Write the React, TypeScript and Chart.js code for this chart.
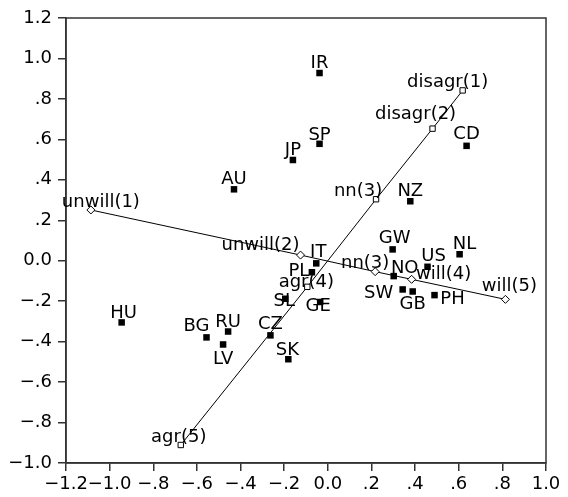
import React, { useEffect, useRef } from "react";
import { Chart, registerables } from "chart.js";

Chart.register(...registerables);

// ---- data ----
const countryNames = ["IR", "SP", "JP", "CD", "NZ", "AU", "HU", "BG", "RU", "LV", "CZ", "SK", "SL", "GE", "IT", "PL", "GW", "NL", "US", "NO", "SW", "GB", "PH"];
const countryX = [-0.038, -0.038, -0.16, 0.636, 0.378, -0.43, -0.945, -0.556, -0.457, -0.48, -0.263, -0.181, -0.195, -0.035, -0.053, -0.073, 0.297, 0.604, 0.457, 0.302, 0.343, 0.389, 0.489];
const countryY = [0.928, 0.578, 0.498, 0.568, 0.294, 0.353, -0.305, -0.379, -0.35, -0.414, -0.369, -0.487, -0.188, -0.204, -0.013, -0.057, 0.056, 0.032, -0.03, -0.076, -0.142, -0.152, -0.17];

const agreeNames = ["disagr(1)", "disagr(2)", "nn(3)", "agr(4)", "agr(5)"];
const agreeX = [0.618, 0.48, 0.221, -0.094, -0.674];
const agreeY = [0.842, 0.653, 0.304, -0.129, -0.911];

const willNames = ["unwill(1)", "unwill(2)", "nn(3)", "will(4)", "will(5)"];
const willX = [-1.086, -0.125, 0.217, 0.384, 0.814];
const willY = [0.251, 0.028, -0.054, -0.092, -0.191];

const xTickValues = [-1.2, -1.0, -0.8, -0.6, -0.4, -0.2, 0, 0.2, 0.4, 0.6, 0.8, 1.0];
const xTickLabels = ["\u22121.2", "\u22121.0", "\u2212.8", "\u2212.6", "\u2212.4", "\u2212.2", "0.0", ".2", ".4", ".6", ".8", "1.0"];
const yTickValues = [-1.0, -0.8, -0.6, -0.4, -0.2, 0, 0.2, 0.4, 0.6, 0.8, 1.0, 1.2];
const yTickLabels = ["\u22121.0", "\u2212.8", "\u2212.6", "\u2212.4", "\u2212.2", "0.0", ".2", ".4", ".6", ".8", "1.0", "1.2"];

// ---- label placement (style only: pixel offsets of label centre from marker) ----
const countryLabelOffsets: Record<string, [number, number]> = {
  IR: [0, -12], SP: [0, -10], JP: [0, -12], CD: [0, -13], NZ: [0, -12], AU: [0, -12],
  HU: [2, -11], BG: [-10, -13], RU: [0, -11], LV: [0, 13], CZ: [0, -13], SK: [-1, -11],
  SL: [-1, 1], GE: [-2, 2], IT: [2, -13], PL: [-13, -3], GW: [2, -13], NL: [5, -12],
  US: [6, -12], NO: [11, -10], SW: [-24, 2], GB: [0, 11], PH: [18, 2],
};
const agreeLabelOffsets: [number, number][] = [[-15, -10], [-17, -16], [-18, -10], [-1, -6], [-2, -10]];
const willLabelOffsets: [number, number][] = [[10, -10], [-40, -12], [-10, -10], [32, -7], [4, -15]];

const FONT_FAMILY = "'DejaVu Sans', sans-serif";
const FONT_SIZE = 18;

const toPts = (xs: number[], ys: number[]) => xs.map((x, i) => ({ x, y: ys[i] }));

const labelPlugin = {
  id: "pointLabels",
  afterDatasetsDraw(chart: any) {
    const ctx = chart.ctx;
    ctx.save();
    ctx.font = `${FONT_SIZE}px ${FONT_FAMILY}`;
    ctx.fillStyle = "#000";
    ctx.textAlign = "center";
    ctx.textBaseline = "alphabetic";
    const capHalf = FONT_SIZE * 0.729 / 2;
    const drawSet = (dsIndex: number, names: string[], offs: (i: number) => [number, number]) => {
      const meta = chart.getDatasetMeta(dsIndex);
      meta.data.forEach((el: any, i: number) => {
        const [dx, dy] = offs(i);
        ctx.fillText(names[i], el.x + dx, el.y + dy + capHalf);
      });
    };
    drawSet(0, agreeNames, (i) => agreeLabelOffsets[i]);
    drawSet(1, willNames, (i) => willLabelOffsets[i]);
    drawSet(2, countryNames, (i) => countryLabelOffsets[countryNames[i]] || [0, -12]);
    ctx.restore();
  },
};

const framePlugin = {
  id: "frame",
  beforeDatasetsDraw(chart: any) {
    const { ctx, chartArea } = chart;
    ctx.save();
    ctx.strokeStyle = "#333";
    ctx.lineWidth = 1.5;
    ctx.strokeRect(chartArea.left, chartArea.top, chartArea.right - chartArea.left, chartArea.bottom - chartArea.top);
    ctx.restore();
  },
};

export default function App() {
  const ref = useRef<HTMLCanvasElement>(null);
  useEffect(() => {
    document.body.style.margin = "0";
    if (!ref.current) return;
    const chart = new Chart(ref.current, {
      type: "scatter",
      data: {
        datasets: [
          {
            data: toPts(agreeX, agreeY),
            showLine: true,
            borderColor: "#000",
            borderWidth: 1,
            pointStyle: "rect",
            pointRadius: 3.8,
            pointBackgroundColor: "#fff",
            pointBorderColor: "#000",
            pointBorderWidth: 1,
          },
          {
            data: toPts(willX, willY),
            showLine: true,
            borderColor: "#000",
            borderWidth: 1,
            pointStyle: "rectRot",
            pointRadius: 4,
            pointBackgroundColor: "#fff",
            pointBorderColor: "#000",
            pointBorderWidth: 1,
          },
          {
            data: toPts(countryX, countryY),
            showLine: false,
            pointStyle: "rect",
            pointRadius: 4.6,
            pointBackgroundColor: "#000",
            pointBorderColor: "#000",
            pointBorderWidth: 0,
          },
        ],
      },
      options: {
        responsive: false,
        animation: false,
        events: [],
        layout: { padding: { top: 18, right: 22, left: 0, bottom: 0 } },
        plugins: { legend: { display: false }, tooltip: { enabled: false } },
        scales: {
          x: {
            type: "linear",
            min: -1.2,
            max: 1.0,
            afterBuildTicks: (scale: any) => {
              scale.ticks = xTickValues.map((v) => ({ value: v }));
            },
            afterFit: (scale: any) => {
              scale.height = 34;
            },
            ticks: {
              autoSkip: false,
              maxRotation: 0,
              color: "#000",
              padding: 3,
              font: { family: FONT_FAMILY, size: FONT_SIZE },
              callback: (_v: any, i: number) => xTickLabels[i],
            },
            grid: { drawOnChartArea: false, drawTicks: true, tickLength: 8, color: "#333", lineWidth: 1.5 },
            border: { display: true, color: "#333", width: 1.5 },
          },
          y: {
            type: "linear",
            min: -1.0,
            max: 1.2,
            afterBuildTicks: (scale: any) => {
              scale.ticks = yTickValues.map((v) => ({ value: v }));
            },
            afterFit: (scale: any) => {
              scale.width = 66;
            },
            ticks: {
              autoSkip: false,
              color: "#000",
              padding: 6,
              font: { family: FONT_FAMILY, size: FONT_SIZE },
              callback: (_v: any, i: number) => yTickLabels[i],
            },
            grid: { drawOnChartArea: false, drawTicks: true, tickLength: 8, color: "#333", lineWidth: 1.5 },
            border: { display: true, color: "#333", width: 1.5 },
          },
        },
      },
      plugins: [framePlugin, labelPlugin],
    });
    return () => chart.destroy();
  }, []);
  return (
    <div style={{ width: 568, height: 497 }}>
      <canvas ref={ref} width={568} height={497} style={{ display: "block" }} />
    </div>
  );
}
